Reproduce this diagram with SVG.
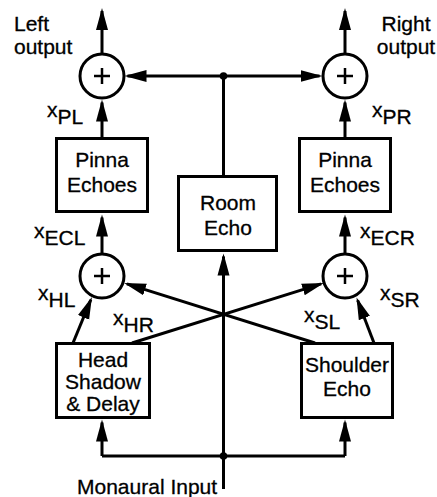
<svg xmlns="http://www.w3.org/2000/svg" width="437" height="497" viewBox="0 0 437 497">
<style>
text{font-family:"Liberation Sans",Arial,Helvetica,sans-serif;font-size:21px;fill:#000;stroke:#000;stroke-width:0.3}
.c{text-anchor:middle}
.box{fill:#fff;stroke:#000;stroke-width:3}
.sum{fill:#fff;stroke:#000;stroke-width:3}
.plus{stroke:#000;stroke-width:2.5;fill:none}
.ln{fill:none;stroke:#000;stroke-width:3}
.arr{fill:none;stroke:#000;stroke-width:3;marker-end:url(#ah)}
</style>
<defs>
<marker id="ah" markerUnits="userSpaceOnUse" markerWidth="24" markerHeight="14" refX="19" refY="7" orient="auto">
<path d="M0,1 L22,7 L0,13 Z" fill="#000"/>
</marker>
</defs>
<rect width="437" height="497" fill="#fff"/>
<g id="connectors">
<path class="arr" d="M102,54 L102,11"/>
<path class="arr" d="M345,54 L345,11"/>
<path class="arr" d="M223.5,76 L127.5,76"/>
<path class="arr" d="M223.5,76 L319.5,76"/>
<path class="ln" d="M223.5,76 L223.5,176.5"/>
<path class="arr" d="M102,138.5 L102,102.5"/>
<path class="arr" d="M345,138.5 L345,102.5"/>
<path class="arr" d="M102,254 L102,217.5"/>
<path class="arr" d="M345,254 L345,217.5"/>
<path class="arr" d="M73,343 L90.8,299.8"/>
<path class="arr" d="M132,343 L321.1,283.9"/>
<path class="arr" d="M315,343 L126.9,283.9"/>
<path class="arr" d="M374,343 L357.6,300.3"/>
<path class="arr" d="M223.5,489 L223.5,256.5"/>
<path class="ln" d="M102,456 L345,456"/>
<path class="arr" d="M102,456 L102,422.5"/>
<path class="arr" d="M345,456 L345,422.5"/>
<circle cx="223.5" cy="76" r="3.8" fill="#000"/>
<circle cx="223.5" cy="456" r="3.8" fill="#000"/>
</g>
<g id="sum-top-left"><circle class="sum" cx="102" cy="76" r="22"/><path class="plus" d="M94,76 H110 M102,68 V84"/></g>
<g id="sum-top-right"><circle class="sum" cx="345" cy="76" r="22"/><path class="plus" d="M337,76 H353 M345,68 V84"/></g>
<g id="sum-bottom-left"><circle class="sum" cx="102" cy="276" r="22"/><path class="plus" d="M94,276 H110 M102,268 V284"/></g>
<g id="sum-bottom-right"><circle class="sum" cx="345" cy="276" r="22"/><path class="plus" d="M337,276 H353 M345,268 V284"/></g>
<g id="pinna-left"><rect class="box" x="56.5" y="138.5" width="91" height="73"/><text class="c" x="102" y="167">Pinna</text><text class="c" x="102" y="192">Echoes</text></g>
<g id="pinna-right"><rect class="box" x="299.5" y="138.5" width="91" height="73"/><text class="c" x="345" y="167">Pinna</text><text class="c" x="345" y="192">Echoes</text></g>
<g id="room-echo"><rect class="box" x="178.5" y="176.5" width="98" height="74"/><text class="c" x="228" y="210">Room</text><text class="c" x="228" y="235">Echo</text></g>
<g id="head-shadow"><rect class="box" x="56.5" y="343.5" width="93" height="74"/><text class="c" x="103" y="367">Head</text><text class="c" x="103" y="389">Shadow</text><text class="c" x="103" y="411">&amp; Delay</text></g>
<g id="shoulder-echo"><rect class="box" x="301.5" y="343.5" width="91" height="74"/><text class="c" x="347" y="372">Shoulder</text><text class="c" x="347" y="396">Echo</text></g>
<g id="labels">
<text x="14" y="31">Left</text>
<text x="14" y="54">output</text>
<text class="c" x="406" y="31">Right</text>
<text class="c" x="406" y="54">output</text>
<text x="47" y="117">x<tspan dy="7">PL</tspan></text>
<text x="372" y="117">x<tspan dy="7">PR</tspan></text>
<text x="34" y="238">x<tspan dy="7">ECL</tspan></text>
<text x="360" y="238">x<tspan dy="7">ECR</tspan></text>
<text x="38" y="300">x<tspan dy="7">HL</tspan></text>
<text x="113" y="325">x<tspan dy="7">HR</tspan></text>
<text x="304" y="322">x<tspan dy="7">SL</tspan></text>
<text x="380" y="300">x<tspan dy="7">SR</tspan></text>
<text x="77" y="494">Monaural Input</text>
</g>
</svg>
